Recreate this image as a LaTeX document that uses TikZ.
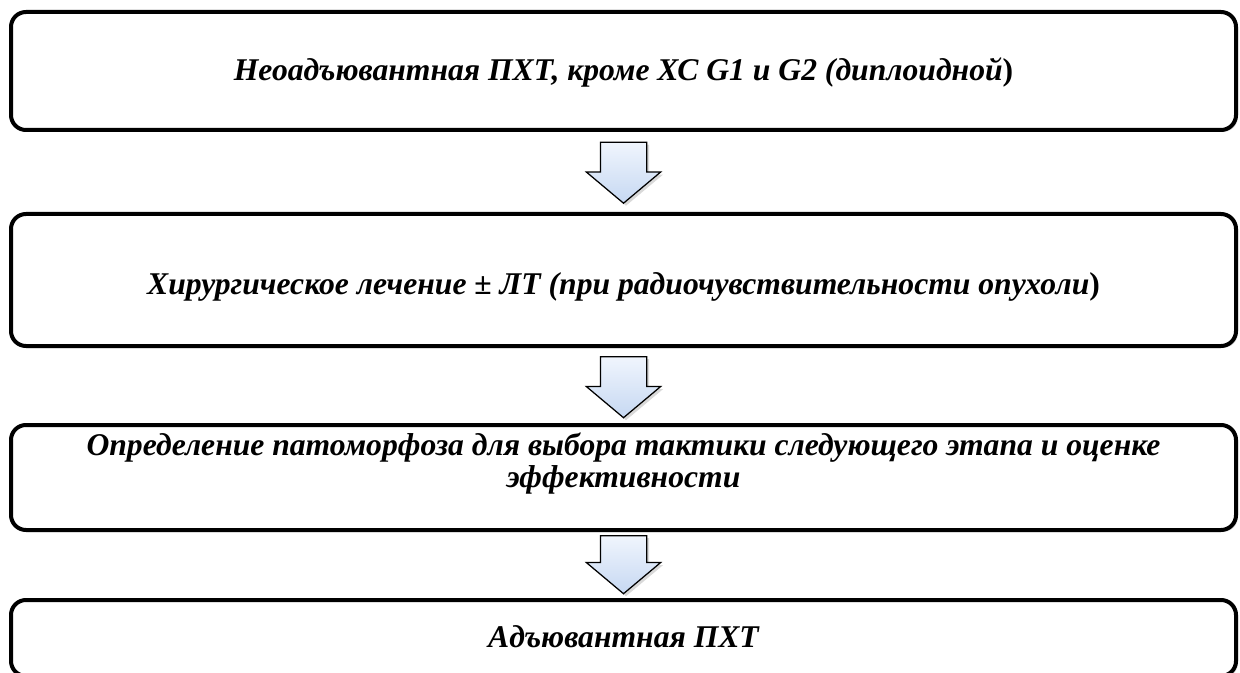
\documentclass[tikz,border=0pt]{standalone}
\usepackage{fontspec}
\setmainfont{Liberation Serif}
\usetikzlibrary{
		calc,
		positioning,
		shapes.arrows,
		shadows
	}
\definecolor{arrowtop}{RGB}{240,245,253}
\definecolor{arrowbottom}{RGB}{198,216,242}
\tikzset{
		>=stealth,
		stagebox/.style={draw=black, line width=0.8mm, rounded corners=3mm, fill=white, minimum width=245mm, inner sep=0mm,
			drop shadow={opacity=0.25, shadow xshift=0.4mm, shadow yshift=-0.4mm}},
		stagetext/.style={font=\fontsize{18}{18.5}\selectfont\bfseries\itshape, align=center, inner sep=0mm},
		flowarrow/.style={single arrow, draw=black, line width=0.25mm, shape border rotate=270, minimum height=12.2mm,
			inner xsep=4.5mm, inner ysep=0mm, single arrow head extend=2.8mm, single arrow tip angle=100,
			top color=arrowtop, bottom color=arrowbottom,
			drop shadow={opacity=0.3, shadow xshift=0.5mm, shadow yshift=-0.5mm}}
	}
\begin{document}
\begin{tikzpicture}
		\useasboundingbox (0mm,0mm) rectangle (248mm,-134.6mm);
		% stages
		\node[stagebox, minimum height=23.6mm] (neoadj) at (124.7mm,-14.2mm) {};
		\node[stagebox, minimum height=26.4mm] (surgery) at (124.7mm,-56mm) {};
		\node[stagebox, minimum height=21mm] (pathomorph) at (124.7mm,-95.5mm) {};
		\node[stagebox, minimum height=15.2mm] (adjuvant) at (124.7mm,-127.6mm) {};
		\node[stagetext] (neoadjtext) at ($(neoadj.center)+(0,-0.2mm)$) {Неоадъювантная ПХТ, кроме ХС G1 и G2 (диплоидной{\upshape )}};
		\node[stagetext] (surgerytext) at ($(surgery.center)+(0,-1.4mm)$) {Хирургическое лечение ± ЛТ (при радиочувствительности опухоли{\upshape )}};
		\node[stagetext] (pathomorphtext) at ($(pathomorph.center)+(0,2.8mm)$) {Определение патоморфоза для выбора тактики следующего этапа и оценке\\ эффективности};
		\node[stagetext] (adjuvanttext) at ($(adjuvant.center)+(0,0.2mm)$) {Адъювантная ПХТ};
		% arrows between stages
		\node[flowarrow] (arrowa) at ($(neoadj.south)!0.5!(surgery.north)+(0,1.8mm)$) {};
		\node[flowarrow] (arrowb) at ($(surgery.south)!0.5!(pathomorph.north)+(0,1.6mm)$) {};
		\node[flowarrow, minimum height=11.6mm] (arrowc) at ($(pathomorph.south)!0.5!(adjuvant.north)+(0,2mm)$) {};
	\end{tikzpicture}
\end{document}
